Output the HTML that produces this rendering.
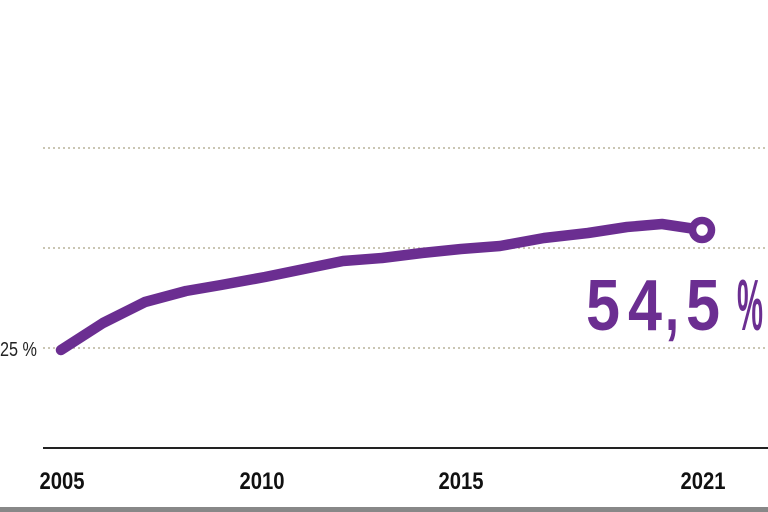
<!DOCTYPE html>
<html><head><meta charset="utf-8"><style>
html,body{margin:0;padding:0;background:#fff;}
svg{display:block;}
</style></head><body>
<svg width="768" height="512" viewBox="0 0 768 512" xmlns="http://www.w3.org/2000/svg">
<g stroke="#b9b49a" stroke-width="1.5" stroke-dasharray="2,3">
<line x1="43" y1="148" x2="768" y2="148"/>
<line x1="43" y1="248" x2="768" y2="248"/>
<line x1="43" y1="348" x2="768" y2="348"/>
</g>
<line x1="43" y1="448" x2="768" y2="448" stroke="#222" stroke-width="2"/>
<rect x="0" y="507" width="768" height="5" fill="#888"/>
<text x="37" y="356" font-family="Liberation Sans Narrow, Liberation Sans, sans-serif" font-size="20" fill="#222" text-anchor="end" textLength="37" lengthAdjust="spacingAndGlyphs">25 %</text>
<g font-family="Liberation Sans Narrow, Liberation Sans, sans-serif" font-weight="bold" font-size="24" fill="#111" text-anchor="middle">
<text x="62" y="489" textLength="45" lengthAdjust="spacingAndGlyphs">2005</text>
<text x="262" y="489" textLength="45" lengthAdjust="spacingAndGlyphs">2010</text>
<text x="461" y="489" textLength="45" lengthAdjust="spacingAndGlyphs">2015</text>
<text x="703" y="489" textLength="45" lengthAdjust="spacingAndGlyphs">2021</text>
</g>
<polyline fill="none" stroke="#6b2e91" stroke-width="10.5" stroke-linecap="round" stroke-linejoin="round"
points="61,350 103,323 145,302 186,291 221,285 265,277 304,269 343,261 382,258 422,253 461,249 500,246 544,238 588,233 627,227 662,224 702,230"/>
<circle cx="702" cy="230" r="9.5" fill="#fff" stroke="#6b2e91" stroke-width="7.5"/>
<g font-family="Liberation Sans Narrow, Liberation Sans, sans-serif" font-weight="bold" font-size="72" fill="#6b2e91">
<text x="586" y="330" textLength="34" lengthAdjust="spacingAndGlyphs">5</text>
<text x="628" y="330" textLength="34" lengthAdjust="spacingAndGlyphs">4</text>
<text x="665" y="330" textLength="14" lengthAdjust="spacingAndGlyphs">,</text>
<text x="686" y="330" textLength="34" lengthAdjust="spacingAndGlyphs">5</text>
<text x="737" y="330" textLength="26" lengthAdjust="spacingAndGlyphs">%</text>
</g>
</svg>
</body></html>
